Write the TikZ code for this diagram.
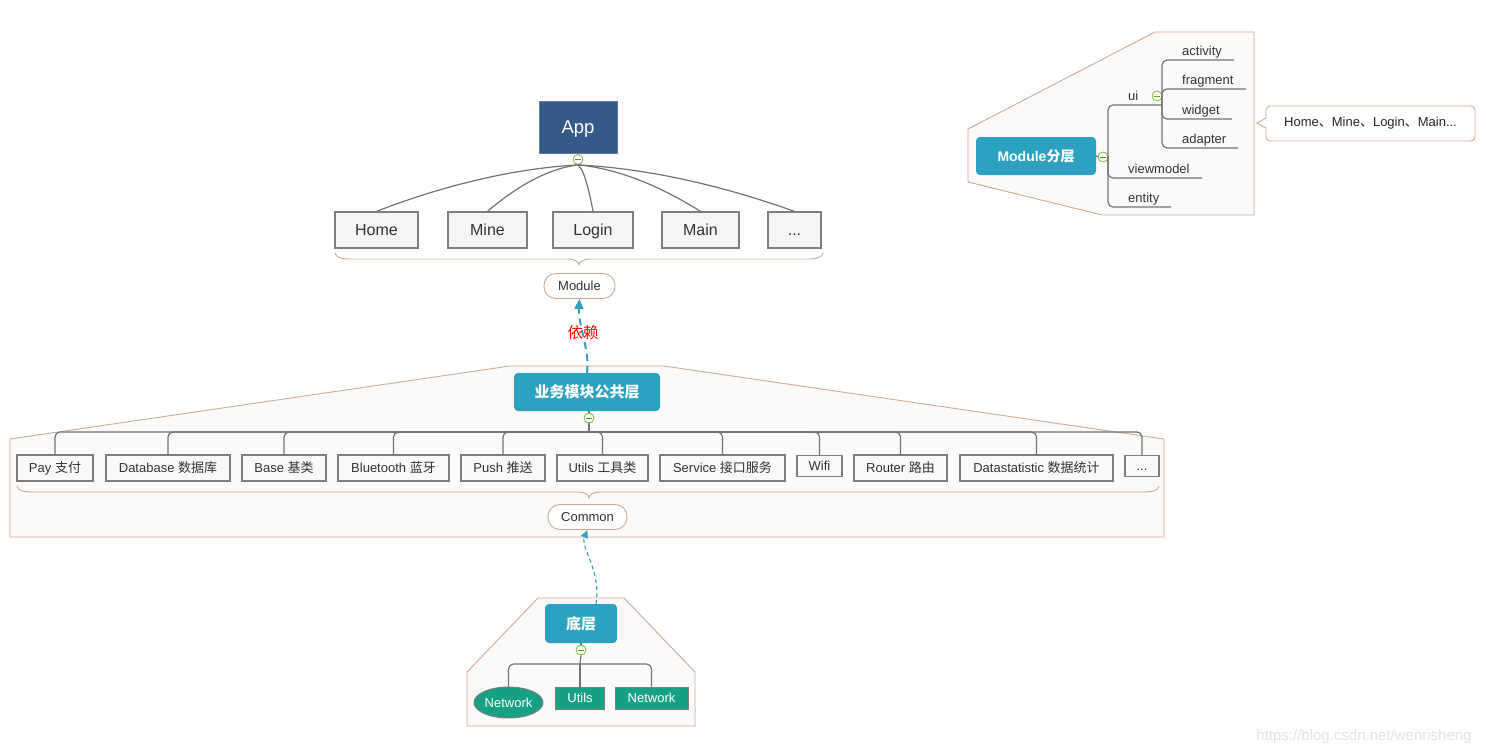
\documentclass[tikz,border=0pt]{standalone}
\usepackage{fontspec}
\setmainfont{Liberation Sans}
\newfontfamily\cjk{Noto Sans CJK SC}
\usetikzlibrary{shapes.geometric,arrows.meta}
\newcommand\myfs[1]{\fontsize{#1pt}{#1pt}\selectfont}
\definecolor{appblue}{RGB}{54,90,136}
\definecolor{tealbox}{RGB}{44,162,192}
\definecolor{greenbox}{RGB}{24,160,132}
\definecolor{tanline}{RGB}{205,170,150}
\definecolor{regionfill}{RGB}{252,250,248}
\definecolor{boxgray}{RGB}{125,125,125}
\definecolor{boxfill}{RGB}{245,245,245}
\definecolor{linegray}{RGB}{115,115,115}
\definecolor{cgreen}{RGB}{120,190,60}
\definecolor{textdark}{RGB}{51,51,51}
\definecolor{arrowteal}{RGB}{52,160,190}
\definecolor{wmgray}{RGB}{228,228,228}
\begin{document}
\begin{tikzpicture}[x=1pt,y=-1pt,
  region/.style={draw=tanline,line width=0.9pt,fill=regionfill},
  conn/.style={draw=linegray,line width=1.2pt},
  brace/.style={draw=tanline,line width=0.9pt},
  appbox/.style={draw=appblue!80!white,line width=0.8pt,fill=appblue,text=white,inner sep=0pt,minimum width=78pt,minimum height=52pt,font=\myfs{18.5},text height=13.3pt,text depth=0pt},
  topbox/.style={draw=boxgray,line width=1.3pt,fill=boxfill,text=textdark,inner sep=0pt,minimum height=36pt,font=\myfs{16},text height=11.5pt,text depth=0pt},
  rowbox/.style={draw=boxgray,line width=1.2pt,fill=boxfill!60!white,text=textdark,inner sep=0pt,minimum height=26pt,font=\myfs{13},text height=9.3pt,text depth=0pt},
  tealnode/.style={fill=tealbox,rounded corners=4pt,text=white,inner sep=0pt,font=\myfs{14}\bfseries},
  greennode/.style={draw=boxgray,line width=0.9pt,fill=greenbox,text=white,inner sep=0pt,font=\myfs{13},text height=9.3pt,text depth=0pt},
  pill/.style={draw=tanline,line width=0.9pt,fill=white,rounded corners=12pt,text=textdark,inner sep=0pt,minimum height=25pt,font=\myfs{13},text height=9.3pt,text depth=0pt},
  collapse/.style={circle,draw=cgreen,line width=0.8pt,fill=white,minimum size=10pt,inner sep=0pt,
    path picture={\draw[cgreen!80!black,line width=0.9pt] ([xshift=2.4pt]path picture bounding box.west) -- ([xshift=-2.4pt]path picture bounding box.east);}},
  leaf/.style={anchor=base west,inner sep=0pt,text=textdark,font=\myfs{13}},
  dep/.style={draw=arrowteal,line width=2pt,dash pattern=on 7pt off 5pt,-{Triangle[length=10pt,width=9pt]}},
  dep2/.style={draw=arrowteal,line width=1.1pt,dash pattern=on 4pt off 3pt,-{Triangle[length=8pt,width=7pt]}}
]
\useasboundingbox (0,0) rectangle (1486,755);
\fill[white] (0,0) rectangle (1486,755);

% regions
\draw[region] (10,439) -- (510,366) -- (664,366) -- (1164,439) -- (1164,537) -- (10,537) -- cycle;
\draw[region] (467,672) -- (538,598) -- (624,598) -- (695,672) -- (695,726) -- (467,726) -- cycle;
\draw[region] (968,129) -- (1155,32) -- (1254,32) -- (1254,215) -- (1102,215) -- (968,182) -- cycle;

% ---------- App ----------
\node[appbox] (app) at (578,127) {App};
\node[collapse] (c1) at (578,159.5) {};
\draw[conn] (app.south) -- (c1.north);
\node[topbox,minimum width=83pt] (home) at (376.5,230) {Home};
\node[topbox,minimum width=79pt] (mine) at (487.5,230) {Mine};
\node[topbox,minimum width=80pt] (login) at (593,230) {Login};
\node[topbox,minimum width=77pt] (main) at (700.5,230) {Main};
\node[topbox,minimum width=53pt] (tmore) at (794.5,230) {...};
\draw[conn] (c1.south) .. controls (487,170) and (406,200) .. (home.north);
\draw[conn] (c1.south) .. controls (537,170) and (501,200) .. (mine.north);
\draw[conn] (c1.south) .. controls (585,170) and (591,200) .. (login.north);
\draw[conn] (c1.south) .. controls (633,170) and (682,200) .. (main.north);
\draw[conn] (c1.south) .. controls (676,170) and (762,200) .. (tmore.north);
\draw[brace] (335,253) .. controls (336,257) and (340,259) .. (350,259) -- (568,259) .. controls (575,259) and (579,262) .. (579,265)
  .. controls (579,262) and (583,259) .. (590,259) -- (809,259) .. controls (818,259) and (822,257) .. (823,253);
\node[pill,minimum width=71pt] (module) at (579.5,286) {Module};

% ---------- business common layer ----------
\node[tealnode,minimum width=146pt,minimum height=38pt,font=\myfs{15}\bfseries\cjk] (biz) at (587,392) {业务模块公共层};
\draw[dep] (biz.north) .. controls (590,350) and (578,325) .. (module.south);
\node[text=red,inner sep=0pt,font=\myfs{15.5}\cjk] (yl) at (583,333) {依赖};
\node[collapse] (c2) at (589,418) {};
\draw[conn] (biz.south -| c2) -- (c2.north);
\coordinate (hub) at (589,432);
\draw[conn] (c2.south) -- (hub);
\node[rowbox,minimum width=76pt] (pay) at (55,468) {Pay {\cjk 支付}};
\node[rowbox,minimum width=124pt] (db) at (168,468) {Database {\cjk 数据库}};
\node[rowbox,minimum width=84pt] (base) at (284,468) {Base {\cjk 基类}};
\node[rowbox,minimum width=111pt] (bt) at (393.5,468) {Bluetooth {\cjk 蓝牙}};
\node[rowbox,minimum width=84pt] (push) at (503,468) {Push {\cjk 推送}};
\node[rowbox,minimum width=91pt] (utils) at (602.5,468) {Utils {\cjk 工具类}};
\node[rowbox,minimum width=125pt] (svc) at (722.5,468) {Service {\cjk 接口服务}};
\node[rowbox,minimum width=45pt,minimum height=21pt] (wifi) at (819.5,466) {Wifi};
\node[rowbox,minimum width=93pt] (router) at (900.5,468) {Router {\cjk 路由}};
\node[rowbox,minimum width=153pt] (ds) at (1036.5,468) {Datastatistic {\cjk 数据统计}};
\node[rowbox,minimum width=34pt,minimum height=21pt] (rmore) at (1142,466) {...};
\foreach \n in {pay,db,base,bt,push,utils,svc,wifi,router,ds,rmore}
  \draw[conn,rounded corners=5pt] (hub) -| (\n.north);
\draw[brace] (17,486) .. controls (18,490) and (22,492) .. (32,492) -- (578,492) .. controls (585,492) and (589,495) .. (589,498)
  .. controls (589,495) and (593,492) .. (600,492) -- (1144,492) .. controls (1154,492) and (1158,490) .. (1159,486);
\node[pill,minimum width=79pt] (common) at (587.5,517) {Common};

% ---------- bottom layer ----------
\node[tealnode,minimum width=72pt,minimum height=39pt,font=\myfs{15}\bfseries\cjk] (bottom) at (581,623.5) {底层};
\draw[dep2] (bottom.north -| 596,0) .. controls (599,585) and (594,570) .. (588,555) .. controls (584,545) and (583,540) .. (common.south);
\node[collapse] (c5) at (581,650) {};
\draw[conn] (bottom.south -| c5) -- (c5.north);
\coordinate (bh) at (580,664);
\draw[conn] (c5.south) -- (bh);
\node[greennode,ellipse,minimum width=69pt,minimum height=31pt] (net1) at (508.5,702.5) {Network};
\node[greennode,minimum width=49pt,minimum height=22pt] (utils2) at (580,698) {Utils};
\node[greennode,minimum width=73pt,minimum height=22pt] (net2) at (651.5,698) {Network};
\draw[conn,rounded corners=5pt] (bh) -| (net1.north);
\draw[conn] (bh) -- (utils2.north);
\draw[conn,rounded corners=5pt] (bh) -| (net2.north);

% ---------- Module layering ----------
\node[tealnode,minimum width=120pt,minimum height=38pt] (ml) at (1036,156) {Module{\cjk 分层}};
\node[collapse] (c4) at (1103,157) {};
\draw[conn] (ml.east) -- (c4.west);
\coordinate (mh) at (1108,157);
\draw[conn] (c4.east) -- (mh);
\node[leaf] (ui) at (1128,100) {ui};
\node[leaf] (vm) at (1128,173) {viewmodel};
\node[leaf] (ent) at (1128,202) {entity};
\coordinate (uiend) at (1162,105);
\coordinate (vmend) at (1202,178);
\coordinate (entend) at (1171,207);
\draw[conn,rounded corners=5pt] (mh) |- (uiend);
\draw[conn,rounded corners=5pt] (mh) |- (vmend);
\draw[conn,rounded corners=5pt] (mh) |- (entend);
\node[collapse] (c6) at (1157,96) {};
\node[leaf] (act) at (1182,55) {activity};
\node[leaf] (frag) at (1182,84) {fragment};
\node[leaf] (wid) at (1182,114) {widget};
\node[leaf] (ada) at (1182,143) {adapter};
\coordinate (actend) at (1234,60);
\coordinate (fragend) at (1246,89);
\coordinate (widend) at (1232,119);
\coordinate (adaend) at (1238,148);
\foreach \e in {actend,fragend,widend,adaend}
  \draw[conn,rounded corners=5pt] (uiend) |- (\e);

% callout
\draw[draw=tanline,line width=0.9pt,fill=white] (1257,123) -- (1266,118) [rounded corners=4pt] -- (1266,106) -- (1475,106) -- (1475,141) -- (1266,141) [sharp corners] -- (1266,128) -- cycle;
\node[inner sep=0pt,text=black!85,font=\myfs{13}] (callout) at (1370.5,123.5) {Home{\cjk 、}Mine{\cjk 、}Login{\cjk 、}Main...};

% watermark
\node[inner sep=0pt,text=wmgray,font=\myfs{15}] (wm) at (1364,737) {https://blog.csdn.net/wenrisheng};
\end{tikzpicture}
\end{document}
